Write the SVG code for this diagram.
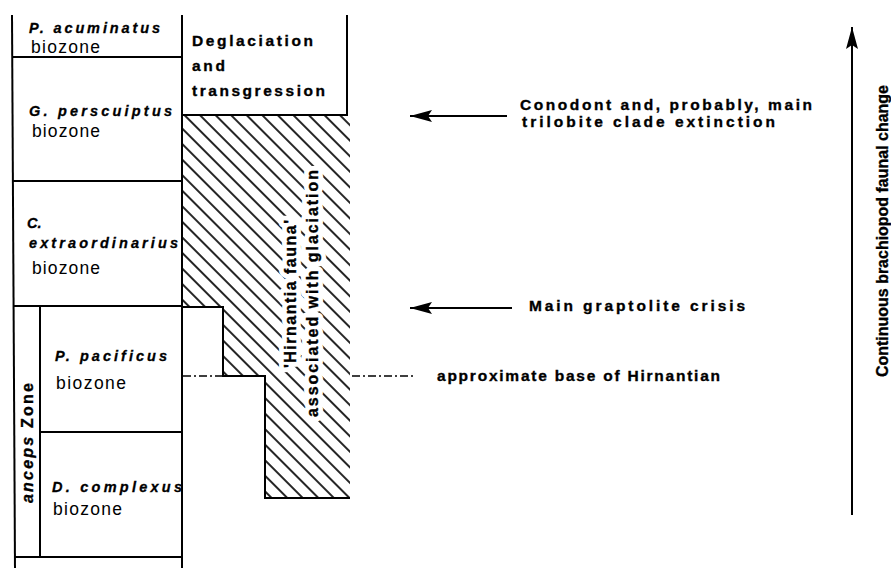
<svg xmlns="http://www.w3.org/2000/svg" width="891" height="568" viewBox="0 0 891 568">
<style>
.ln{stroke:#000;stroke-width:2;fill:none}
.dd{stroke:#000;stroke-width:1.5;fill:none;stroke-dasharray:8,3,2,3}
.bi{font-family:"Liberation Sans",Arial,sans-serif;font-weight:bold;font-style:italic;font-size:14.5px;fill:#000;stroke:#000;stroke-width:0.3}
.bz{font-family:"Liberation Sans",Arial,sans-serif;font-size:17.5px;fill:#000}
.b{font-family:"Liberation Sans",Arial,sans-serif;font-weight:bold;font-size:15.5px;fill:#000;stroke:#000;stroke-width:0.35}
.r{font-size:16px}
.halo{stroke:#fff;stroke-width:10;stroke-linejoin:round;fill:#fff}
</style>
<defs>
<pattern id="hatch" patternUnits="userSpaceOnUse" width="11" height="11" patternTransform="rotate(-45)">
<line x1="5" y1="-2" x2="5" y2="13" stroke="#000" stroke-width="1.7"/>
</pattern>
<marker id="ah" markerWidth="24" markerHeight="14" refX="22" refY="7" orient="auto" markerUnits="userSpaceOnUse">
<path d="M0,1 L22,7 L0,13 L4,7 Z" fill="#000"/>
</marker>
</defs>
<rect width="891" height="568" fill="#fff"/>

<g id="hatched-area">
<path d="M182,115 H350 V498 H265 V376 H223 V307 H182 Z" fill="url(#hatch)"/>
</g>

<g id="columns">
<path class="ln" d="M12,15 L15,568"/>
<path class="ln" d="M182,15 V568"/>
<path class="ln" d="M12,57 H182"/>
<path class="ln" d="M12,181 H182"/>
<path class="ln" d="M13,306 H182"/>
<path class="ln" d="M40,306 V557"/>
<path class="ln" d="M40,432 H182"/>
<path class="ln" d="M15,557 H182"/>
</g>

<g id="deglaciation-box">
<path class="ln" d="M182,115 H347 V15"/>
<text class="b" x="192" y="46" textLength="121" lengthAdjust="spacing">Deglaciation</text>
<text class="b" x="192" y="71" textLength="33" lengthAdjust="spacing">and</text>
<text class="b" x="192" y="96" textLength="133" lengthAdjust="spacing">transgression</text>
</g>

<g id="step-outline">
<path class="ln" d="M182,307 H223 V376 H265 V498 H350"/>
</g>

<g id="p-acuminatus">
<text class="bi" x="29" y="33" textLength="131" lengthAdjust="spacing">P. acuminatus</text>
<text class="bz" x="31" y="53" textLength="69" lengthAdjust="spacing">biozone</text>
</g>
<g id="g-persculptus">
<text class="bi" x="29" y="116" textLength="143" lengthAdjust="spacing">G. perscuiptus</text>
<text class="bz" x="32" y="137" textLength="68" lengthAdjust="spacing">biozone</text>
</g>
<g id="c-extraordinarius">
<text class="bi" x="27" y="228">C.</text>
<text class="bi" x="29" y="248" textLength="149" lengthAdjust="spacing">extraordinarius</text>
<text class="bz" x="32" y="274" textLength="68" lengthAdjust="spacing">biozone</text>
</g>
<g id="p-pacificus">
<text class="bi" x="55" y="361" textLength="112" lengthAdjust="spacing">P. pacificus</text>
<text class="bz" x="56" y="389" textLength="70" lengthAdjust="spacing">biozone</text>
</g>
<g id="d-complexus">
<text class="bi" x="52" y="492" textLength="130" lengthAdjust="spacing">D. complexus</text>
<text class="bz" x="53" y="515" textLength="69" lengthAdjust="spacing">biozone</text>
</g>
<g id="anceps-zone">
<text class="b r" transform="translate(33,503) rotate(-90)" textLength="120" lengthAdjust="spacing"><tspan font-style="italic">anceps</tspan> Zone</text>
</g>

<g id="hirnantia-fauna">
<text class="b r halo" transform="translate(296,368) rotate(-90)" textLength="148" lengthAdjust="spacing">'Hirnantia fauna'</text>
<text class="b r halo" transform="translate(318,417) rotate(-90)" textLength="247" lengthAdjust="spacing">associated with glaciation</text>
<text class="b r" transform="translate(296,368) rotate(-90)" textLength="148" lengthAdjust="spacing">'Hirnantia fauna'</text>
<text class="b r" transform="translate(318,417) rotate(-90)" textLength="247" lengthAdjust="spacing">associated with glaciation</text>
</g>

<g id="connectors">
<path class="dd" d="M183,376 H223"/>
<path class="dd" d="M352,376 H415"/>
<path class="ln" d="M507,116 H410" marker-end="url(#ah)"/>
<path class="ln" d="M512,308 H410" marker-end="url(#ah)"/>
<path class="ln" d="M852,515 V27" marker-end="url(#ah)"/>
</g>

<g id="conodont-label">
<text class="b" x="520" y="110" textLength="292" lengthAdjust="spacing">Conodont and, probably, main</text>
<text class="b" x="522" y="127" textLength="253" lengthAdjust="spacing">trilobite clade extinction</text>
</g>
<g id="graptolite-label">
<text class="b" x="529" y="311" textLength="216" lengthAdjust="spacing">Main graptolite crisis</text>
</g>
<g id="hirnantian-label">
<text class="b" x="437" y="381" textLength="283" lengthAdjust="spacing">approximate base of Hirnantian</text>
</g>
<g id="brachiopod-label">
<text class="b r" transform="translate(888,377) rotate(-90)" textLength="292" lengthAdjust="spacing">Continuous brachiopod faunal change</text>
</g>
</svg>
